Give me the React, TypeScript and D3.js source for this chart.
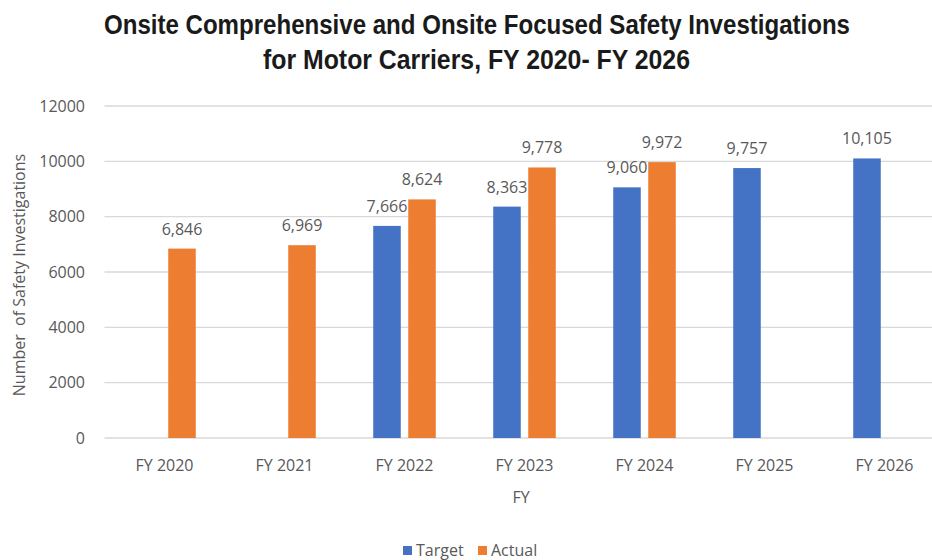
import * as d3 from "d3";

const categories = ["FY 2020", "FY 2021", "FY 2022", "FY 2023", "FY 2024", "FY 2025", "FY 2026"];
const targetValues: (number | null)[] = [null, null, 7666, 8363, 9060, 9757, 10105];
const actualValues: (number | null)[] = [6846, 6969, 8624, 9778, 9972, null, null];
const yTicks = [0, 2000, 4000, 6000, 8000, 10000, 12000];
const seriesNames = ["Target", "Actual"];
const seriesColors = ["#4472C4", "#ED7D31"];

const W = 932;
const H = 560;
const font = "'Open Sans', sans-serif";
const gray = "#595959";

const App = () => {
  const x = d3.scaleBand().domain(categories).range([104.5, 944.5]).paddingInner(0).paddingOuter(0);
  const inner = d3.scaleBand().domain(seriesNames).range([0, x.bandwidth()]).paddingInner(0.214).paddingOuter(0.82);
  const y = d3.scaleLinear().domain([0, 12000]).range([438, 106]);
  const fmt = d3.format(",");
  const series = [targetValues, actualValues];

  return (
    <svg width={W} height={H} style={{ position: "absolute", left: 0, top: 0, background: "#fff" }}>
      <g fontFamily="'Liberation Sans', Arial, sans-serif" fontWeight="bold" fontSize={28} fill="#1a1a1a">
        <text x={104} y={34} textLength={746} lengthAdjust="spacingAndGlyphs">
          Onsite Comprehensive and Onsite Focused Safety Investigations
        </text>
        <text x={263} y={69} textLength={427} lengthAdjust="spacingAndGlyphs">
          for Motor Carriers, FY 2020- FY 2026
        </text>
      </g>
      {/* grid */}
      {yTicks.map((t) => (
        <g key={t}>
          <line x1={104.5} x2={W} y1={y(t)} y2={y(t)} stroke="#D9D9D9" strokeWidth={1.3} />
          <text x={85} y={y(t) + 5.5} textAnchor="end" fontFamily={font} fontSize={16} fill={gray}>
            {t}
          </text>
        </g>
      ))}
      {/* bars */}
      {series.map((vals, si) =>
        vals.map((v, i) =>
          v == null ? null : (
            <g key={`${si}-${i}`}>
              <rect
                x={(x(categories[i]) as number) + (inner(seriesNames[si]) as number)}
                y={y(v)}
                width={inner.bandwidth()}
                height={y(0) - y(v)}
                fill={seriesColors[si]}
              />
              <text
                x={(x(categories[i]) as number) + (inner(seriesNames[si]) as number) + inner.bandwidth() / 2}
                y={y(v) - 14}
                textAnchor="middle"
                fontFamily={font}
                fontSize={16}
                fill={gray}
              >
                {fmt(v)}
              </text>
            </g>
          )
        )
      )}
      {/* x labels */}
      {categories.map((c) => (
        <text key={c} x={(x(c) as number) + x.bandwidth() / 2} y={471} textAnchor="middle" fontFamily={font} fontSize={16} fill={gray}>
          {c}
        </text>
      ))}
      <text x={521} y={503} textAnchor="middle" fontFamily={font} fontSize={16} fill={gray}>
        FY
      </text>
      <text transform="translate(25,275) rotate(-90)" textAnchor="middle" fontFamily={font} fontSize={16} fill={gray} style={{ whiteSpace: "pre" }}>
        Number  of Safety Investigations
      </text>
      {/* legend */}
      <g fontFamily={font} fontSize={16} fill={gray}>
        <rect x={403} y={546} width={9} height={9} fill={seriesColors[0]} />
        <text x={416} y={556}>{seriesNames[0]}</text>
        <rect x={478} y={546} width={9} height={9} fill={seriesColors[1]} />
        <text x={491} y={556}>{seriesNames[1]}</text>
      </g>
    </svg>
  );
};

export default App;
